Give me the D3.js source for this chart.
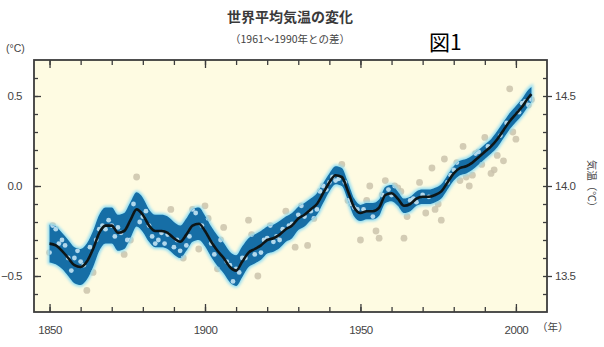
<!DOCTYPE html>
<html>
<head>
<meta charset="utf-8">
<script src="https://cdn.jsdelivr.net/npm/d3@7"></script>
<style>
  html, body { margin: 0; padding: 0; background: #ffffff; }
  svg { display: block; }
</style>
</head>
<body>
<svg id="chart" width="604" height="347"></svg>
<script>
// Global mean temperature anomaly, relative to 1961–1990 (°C)
const firstYear = 1850;
const annualAnomaly = [
  -0.37, -0.22, -0.24, -0.32, -0.30, -0.33, -0.40, -0.47, -0.40, -0.36,
  -0.42, -0.44, -0.58, -0.34, -0.48, -0.30, -0.24, -0.22, -0.24, -0.19,
  -0.22, -0.28, -0.23, -0.26, -0.38, -0.30, -0.30, -0.10, 0.05, -0.20,
  -0.17, -0.14, -0.22, -0.28, -0.32, -0.30, -0.26, -0.32, -0.27, -0.13,
  -0.34, -0.30, -0.36, -0.40, -0.33, -0.28, -0.13, -0.15, -0.35, -0.22,
  -0.11, -0.18, -0.32, -0.38, -0.46, -0.30, -0.23, -0.42, -0.44, -0.53,
  -0.46, -0.48, -0.40, -0.40, -0.19, -0.27, -0.38, -0.50, -0.37, -0.30,
  -0.29, -0.22, -0.31, -0.28, -0.30, -0.24, -0.14, -0.22, -0.21, -0.34,
  -0.16, -0.11, -0.17, -0.33, -0.14, -0.18, -0.13, -0.03, 0.00, -0.02,
  0.02, 0.05, 0.03, 0.04, 0.12, 0.02, -0.08, -0.10, -0.12, -0.13,
  -0.30, -0.13, -0.08, 0.00, -0.17, -0.25, -0.29, -0.05, 0.03, -0.02,
  -0.05, 0.00, -0.01, -0.03, -0.29, -0.17, -0.08, -0.07, -0.09, 0.02,
  -0.05, -0.15, -0.06, 0.10, -0.13, -0.10, -0.19, 0.15, 0.02, 0.06,
  0.09, 0.13, 0.03, 0.22, 0.05, 0.00, 0.06, 0.18, 0.19, 0.12,
  0.27, 0.22, 0.07, 0.09, 0.17, 0.28, 0.14, 0.35, 0.54, 0.30,
  0.26, 0.41, 0.46, 0.47, 0.45, 0.48
];

// Decadal smoothed curve and its uncertainty half-width
const smoothYears = [
  1850, 1852, 1854, 1856, 1858, 1860, 1862, 1864, 1866, 1868,
  1870, 1872, 1874, 1876, 1878, 1880, 1882, 1884, 1886, 1888,
  1890, 1892, 1894, 1896, 1898, 1900, 1902, 1904, 1906, 1908,
  1910, 1912, 1914, 1916, 1918, 1920, 1922, 1924, 1926, 1928,
  1930, 1932, 1934, 1936, 1938, 1940, 1942, 1944, 1946, 1948,
  1950, 1952, 1954, 1956, 1958, 1960, 1962, 1964, 1966, 1968,
  1970, 1972, 1974, 1976, 1978, 1980, 1982, 1984, 1986, 1988,
  1990, 1992, 1994, 1996, 1998, 2000, 2002, 2004, 2005
];
const smoothValues = [
  -0.32, -0.33, -0.36, -0.40, -0.44, -0.45, -0.42, -0.35, -0.26, -0.22,
  -0.22, -0.26, -0.25, -0.19, -0.13, -0.16, -0.22, -0.25, -0.25, -0.26,
  -0.29, -0.31, -0.27, -0.22, -0.21, -0.25, -0.31, -0.36, -0.40, -0.45,
  -0.47, -0.42, -0.37, -0.35, -0.33, -0.30, -0.29, -0.27, -0.24, -0.22,
  -0.18, -0.16, -0.13, -0.10, -0.04, 0.02, 0.06, 0.05, -0.03, -0.12,
  -0.15, -0.14, -0.14, -0.12, -0.05, -0.04, -0.07, -0.11, -0.10, -0.07,
  -0.06, -0.06, -0.05, -0.03, 0.02, 0.07, 0.10, 0.11, 0.13, 0.16,
  0.19, 0.22, 0.26, 0.31, 0.36, 0.40, 0.44, 0.49, 0.51
];
const bandHalfWidth = [
  0.105, 0.105, 0.10, 0.10, 0.10, 0.10, 0.10, 0.10, 0.10, 0.10,
  0.10, 0.10, 0.10, 0.10, 0.095, 0.095, 0.09, 0.09, 0.09, 0.09,
  0.09, 0.09, 0.09, 0.09, 0.09, 0.085, 0.085, 0.085, 0.085, 0.085,
  0.085, 0.085, 0.08, 0.08, 0.08, 0.075, 0.075, 0.075, 0.07, 0.07,
  0.065, 0.065, 0.06, 0.06, 0.055, 0.05, 0.05, 0.05, 0.05, 0.05,
  0.045, 0.045, 0.045, 0.045, 0.045, 0.045, 0.04, 0.04, 0.04, 0.04,
  0.04, 0.04, 0.04, 0.04, 0.04, 0.04, 0.04, 0.04, 0.04, 0.04,
  0.04, 0.04, 0.045, 0.045, 0.045, 0.045, 0.045, 0.045, 0.04
];

const yearTicks = [1850, 1900, 1950, 2000];
const anomalyTicks = [-0.5, 0.0, 0.5];
const absoluteTicks = [13.5, 14.0, 14.5];
const baselineTemp = 14.0;

const svg = d3.select("#chart");
const plot = { left: 34, right: 547, top: 60, bottom: 312 };

const x = d3.scaleLinear().domain([1845, 2010]).range([plot.left, plot.right]);
const y = d3.scaleLinear().domain([-0.7, 0.7]).range([plot.bottom, plot.top]);
const yAbs = d3.scaleLinear()
  .domain([baselineTemp - 0.7, baselineTemp + 0.7])
  .range([plot.bottom, plot.top]);

const defs = svg.append("defs");
defs.append("clipPath").attr("id", "plotClip")
  .append("rect")
  .attr("x", plot.left).attr("y", plot.top)
  .attr("width", plot.right - plot.left).attr("height", plot.bottom - plot.top);
const glow = defs.append("filter").attr("id", "glow")
  .attr("x", "-5%").attr("y", "-20%").attr("width", "110%").attr("height", "140%");
glow.append("feGaussianBlur").attr("stdDeviation", 1.6);
const soft = defs.append("filter").attr("id", "soft");
soft.append("feGaussianBlur").attr("stdDeviation", 0.5);

// Plot background
svg.append("rect")
  .attr("x", plot.left).attr("y", plot.top)
  .attr("width", plot.right - plot.left).attr("height", plot.bottom - plot.top)
  .attr("fill", "#fefbe2");

const smooth = smoothYears.map((yr, i) => ({ year: yr, v: smoothValues[i], h: bandHalfWidth[i] }));
const annual = annualAnomaly.map((v, i) => ({ year: firstYear + i, v }));

const band = d3.area()
  .x(d => x(d.year))
  .y0(d => y(d.v - d.h))
  .y1(d => y(d.v + d.h))
  .curve(d3.curveMonotoneX);
const centre = d3.line()
  .x(d => x(d.year))
  .y(d => y(d.v))
  .curve(d3.curveMonotoneX);

defs.append("clipPath").attr("id", "bandClip")
  .append("path").attr("d", band(smooth));

const g = svg.append("g").attr("clip-path", "url(#plotClip)");

// Annual values
g.append("g").attr("filter", "url(#soft)")
  .selectAll("circle").data(annual).join("circle")
  .attr("cx", d => x(d.year)).attr("cy", d => y(d.v))
  .attr("r", 3.4)
  .attr("fill", "#cbc3ad").attr("fill-opacity", 0.85);

// Uncertainty band with pale halo
g.append("path").attr("d", band(smooth))
  .attr("fill", "#7fd2ef").attr("stroke", "#8fdcf3").attr("stroke-width", 3.5)
  .attr("filter", "url(#glow)");
g.append("path").attr("d", band(smooth))
  .attr("fill", "#136ea6").attr("filter", "url(#soft)");

// Annual values seen through the band
g.append("g").attr("clip-path", "url(#bandClip)").attr("filter", "url(#soft)")
  .selectAll("circle").data(annual).join("circle")
  .attr("cx", d => x(d.year)).attr("cy", d => y(d.v))
  .attr("r", 2.4)
  .attr("fill", "#c2e3f4").attr("fill-opacity", 0.9);

// Smoothed curve
g.append("path").attr("d", centre(smooth))
  .attr("fill", "none").attr("stroke", "#101418").attr("stroke-width", 2.6)
  .attr("stroke-linejoin", "round").attr("filter", "url(#soft)");

// Axes
const axisColor = "#3c3c3c";
const labelFont = "'Liberation Sans', Arial, sans-serif";
const jpFont = "'Noto Sans CJK JP', 'Noto Sans', sans-serif";

function styleAxis(sel) {
  sel.select(".domain").remove();
  sel.selectAll(".tick line").attr("stroke", axisColor).attr("stroke-width", 1.3);
  sel.selectAll(".tick text").attr("fill", "#444").attr("font-family", labelFont)
    .attr("font-size", 11.5).attr("letter-spacing", -0.5);
}

const decadeTicks = d3.range(1850, 2001, 10);
const tenthTicks = d3.range(-6, 7).map(k => k / 10);
const tenthAbs = tenthTicks.map(t => +(baselineTemp + t).toFixed(1));

// minor ticks, pointing inward on all four sides
svg.append("g").attr("transform", `translate(0,${plot.bottom})`)
  .call(d3.axisBottom(x).tickValues(decadeTicks).tickSize(-5).tickFormat(""))
  .call(styleAxis);
svg.append("g").attr("transform", `translate(0,${plot.top})`)
  .call(d3.axisTop(x).tickValues(decadeTicks).tickSize(-5).tickFormat(""))
  .call(styleAxis);
svg.append("g").attr("transform", `translate(${plot.left},0)`)
  .call(d3.axisLeft(y).tickValues(tenthTicks).tickSize(-4).tickFormat(""))
  .call(styleAxis);
svg.append("g").attr("transform", `translate(${plot.right},0)`)
  .call(d3.axisRight(yAbs).tickValues(tenthAbs).tickSize(-4).tickFormat(""))
  .call(styleAxis);

// major ticks with labels
svg.append("g").attr("transform", `translate(0,${plot.bottom})`)
  .call(d3.axisBottom(x).tickValues(yearTicks).tickSize(-8).tickPadding(14).tickFormat(d3.format("d")))
  .call(styleAxis);
svg.append("g").attr("transform", `translate(0,${plot.top})`)
  .call(d3.axisTop(x).tickValues(yearTicks).tickSize(-8).tickFormat(""))
  .call(styleAxis);
svg.append("g").attr("transform", `translate(${plot.left},0)`)
  .call(d3.axisLeft(y).tickValues(anomalyTicks).tickSize(-7).tickPadding(12).tickFormat(d3.format(".1f")))
  .call(styleAxis);
svg.append("g").attr("transform", `translate(${plot.right},0)`)
  .call(d3.axisRight(yAbs).tickValues(absoluteTicks).tickSize(5).tickPadding(3).tickFormat(d3.format(".1f")))
  .call(styleAxis);

// Frame
svg.append("rect")
  .attr("x", plot.left).attr("y", plot.top)
  .attr("width", plot.right - plot.left).attr("height", plot.bottom - plot.top)
  .attr("fill", "none").attr("stroke", axisColor).attr("stroke-width", 1.8);

// Titles and unit labels
svg.append("text").attr("x", 290).attr("y", 22).attr("text-anchor", "middle")
  .attr("font-family", jpFont).attr("font-weight", 700).attr("font-size", 14)
  .attr("fill", "#3a3a3a").text("世界平均気温の変化");
svg.append("text").attr("x", 290).attr("y", 43).attr("text-anchor", "middle")
  .attr("font-family", jpFont).attr("font-size", 10.5)
  .attr("fill", "#444").text("（1961～1990年との差）");
svg.append("text").attr("x", 429).attr("y", 50)
  .attr("font-family", jpFont).attr("font-size", 21)
  .attr("fill", "#000").text("図1");
svg.append("text").attr("x", 6).attr("y", 52)
  .attr("font-family", labelFont).attr("font-size", 10.5)
  .attr("fill", "#444").text("(°C)");
svg.append("text").attr("x", 537).attr("y", 331)
  .attr("font-family", jpFont).attr("font-size", 10.5)
  .attr("fill", "#444").text("（年）");
svg.append("text")
  .attr("transform", `translate(588,${y(0)}) rotate(90)`)
  .attr("text-anchor", "middle")
  .attr("font-family", jpFont).attr("font-size", 10.5)
  .attr("fill", "#444").text("気温（°C）");
</script>
</body>
</html>
